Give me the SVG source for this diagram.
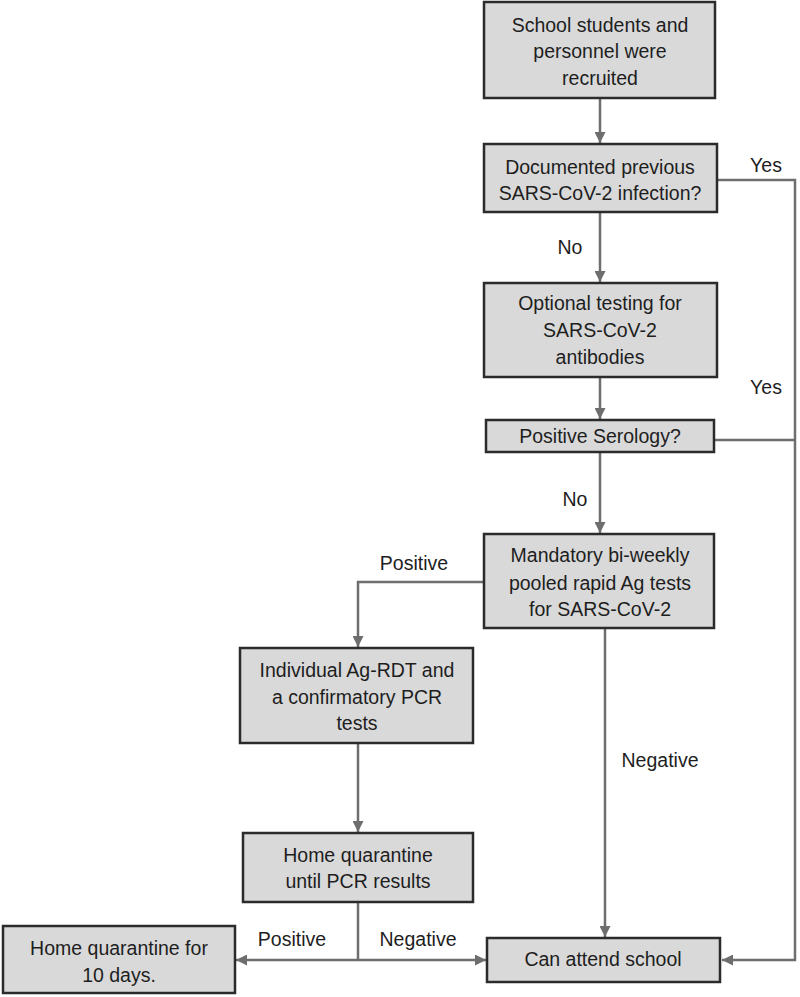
<svg xmlns="http://www.w3.org/2000/svg" width="800" height="997" viewBox="0 0 800 997">
<defs>
<marker id="ah" viewBox="0 0 10 10" refX="10" refY="5" markerWidth="4.4" markerHeight="4.4" orient="auto" markerUnits="strokeWidth">
<path d="M0,0 L10,5 L0,10 z" fill="#6e6e6e"/>
</marker>
<style>
.box{fill:#d9d9d9;stroke:#2b2b2b;stroke-width:2.5}
.t{font-family:"Liberation Sans",Arial,sans-serif;font-size:19.5px;fill:#1e1e1e;text-anchor:middle}
.c{fill:none;stroke:#6e6e6e;stroke-width:2.5}
</style>
</defs>
<rect width="800" height="997" fill="#fff"/>
<g id="connectors">
<line class="c" x1="600" y1="98" x2="600" y2="143" marker-end="url(#ah)"/>
<line class="c" x1="600" y1="212" x2="600" y2="282" marker-end="url(#ah)"/>
<line class="c" x1="600" y1="377" x2="600" y2="419" marker-end="url(#ah)"/>
<line class="c" x1="600" y1="452" x2="600" y2="533" marker-end="url(#ah)"/>
<polyline class="c" points="717,180 795,180 795,960 722,960" marker-end="url(#ah)"/>
<line class="c" x1="714" y1="440" x2="795" y2="440"/>
<polyline class="c" points="484,582 358,582 358,647" marker-end="url(#ah)"/>
<line class="c" x1="605" y1="628" x2="605" y2="937" marker-end="url(#ah)"/>
<line class="c" x1="358" y1="743" x2="358" y2="832" marker-end="url(#ah)"/>
<line class="c" x1="358" y1="902" x2="358" y2="960"/>
<line class="c" x1="358" y1="960" x2="236" y2="960" marker-end="url(#ah)"/>
<line class="c" x1="358" y1="960" x2="486" y2="960" marker-end="url(#ah)"/>
<text class="t" x="766" y="172">Yes</text>
<text class="t" x="766" y="394">Yes</text>
<text class="t" x="570" y="254">No</text>
<text class="t" x="575" y="506">No</text>
<text class="t" x="414" y="570">Positive</text>
<text class="t" x="660" y="767">Negative</text>
<text class="t" x="292" y="946">Positive</text>
<text class="t" x="418" y="946">Negative</text>
</g>
<g id="n1"><rect class="box" x="484" y="2" width="231" height="96"/>
<text class="t" x="600" y="32">School students and</text>
<text class="t" x="600" y="58">personnel were</text>
<text class="t" x="600" y="85">recruited</text></g>
<g id="n2"><rect class="box" x="484" y="144" width="233" height="68"/>
<text class="t" x="600" y="174">Documented previous</text>
<text class="t" x="600" y="200">SARS-CoV-2 infection?</text></g>
<g id="n3"><rect class="box" x="484" y="283" width="233" height="94"/>
<text class="t" x="600" y="310">Optional testing for</text>
<text class="t" x="600" y="337">SARS-CoV-2</text>
<text class="t" x="600" y="364">antibodies</text></g>
<g id="n4"><rect class="box" x="486" y="420" width="228" height="32"/>
<text class="t" x="600" y="443">Positive Serology?</text></g>
<g id="n5"><rect class="box" x="484" y="534" width="230" height="94"/>
<text class="t" x="600" y="562">Mandatory bi-weekly</text>
<text class="t" x="600" y="590">pooled rapid Ag tests</text>
<text class="t" x="600" y="616">for SARS-CoV-2</text></g>
<g id="n6"><rect class="box" x="240" y="648" width="233" height="95"/>
<text class="t" x="357" y="677">Individual Ag-RDT and</text>
<text class="t" x="357" y="704">a confirmatory PCR</text>
<text class="t" x="357" y="730">tests</text></g>
<g id="n7"><rect class="box" x="243" y="833" width="230" height="69"/>
<text class="t" x="358" y="862">Home quarantine</text>
<text class="t" x="358" y="888">until PCR results</text></g>
<g id="n8"><rect class="box" x="3" y="926" width="232" height="67"/>
<text class="t" x="119" y="955">Home quarantine for</text>
<text class="t" x="119" y="982">10 days.</text></g>
<g id="n9"><rect class="box" x="487" y="938" width="233" height="44"/>
<text class="t" x="603" y="966">Can attend school</text></g>
</svg>
